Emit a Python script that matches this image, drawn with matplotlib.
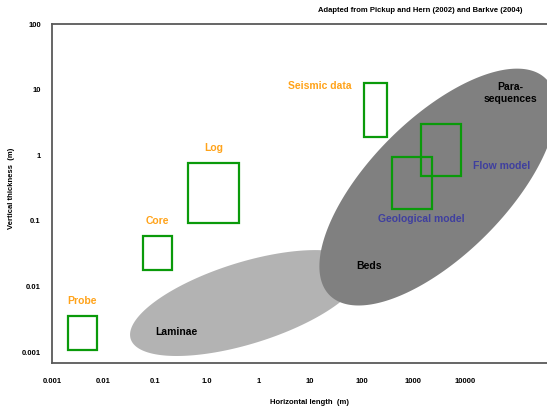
import numpy as np
import matplotlib
matplotlib.use("Agg")
import matplotlib.pyplot as plt
from matplotlib.patches import Rectangle
from matplotlib.ticker import NullLocator

plt.rcParams['font.family'] = ['Liberation Sans', 'DejaVu Sans']
plt.rcParams['font.weight'] = 'bold'

# measurement scales: horizontal extent (m) and vertical extent (m)
scale_names = ['Probe', 'Core', 'Log', 'Seismic data', 'Geological model', 'Flow model']
x_min = [0.00204, 0.058, 0.432, 1115, 3880, 14150]
x_max = [0.00745, 0.212, 4.2, 3100, 23100, 84300]
y_min = [0.00107, 0.0178, 0.0925, 1.89, 0.151, 0.482]
y_max = [0.00354, 0.0586, 0.76, 12.6, 0.94, 2.99]

# geological features as ellipses in log-log space
feature_names = ['Laminae', 'Beds']
feature_cx = [5.75, 30000]
feature_cy = [0.00558, 0.327]
feature_a = [2.34, 2.965]     # semi-axes in x decades
feature_b = [0.79, 1.32]
feature_angle = [17.3, 45]
feature_colors = ['#b3b3b3', '#808080']

x_ticks = 10.0 ** np.arange(-3, 6)
x_tick_labels = ['0.001', '0.01', '0.1', '1.0', '1', '10', '100', '1000', '10000']
y_ticks = 10.0 ** np.arange(-3, 3)
y_tick_labels = ['0.001', '0.01', '0.1', '1', '10', '100']

fig = plt.figure(figsize=(5.47, 4.07), dpi=100)
ax = fig.add_axes([0.095, 0.108, 0.905, 0.833])
ax.set_xscale('log')
ax.set_yscale('log')
xlim = (1e-3, 10 ** 6.593)
ylim = (10 ** -3.168, 100)
ax.set_xlim(xlim)
ax.set_ylim(ylim)

# px per decade on each axis, so the ellipses keep their shape
w_px = 0.905 * 547
h_px = 0.833 * 407
px_x = w_px / np.log10(xlim[1] / xlim[0])
px_y = h_px / np.log10(ylim[1] / ylim[0])
ratio = px_x / px_y

t = np.linspace(0, 2 * np.pi, 300)
for cx, cy, a, b, ang, col in zip(feature_cx, feature_cy, feature_a, feature_b,
                                  feature_angle, feature_colors):
    th = np.radians(ang)
    du = a * np.cos(t) * np.cos(th) - b * np.sin(t) * np.sin(th)
    dv = (a * np.cos(t) * np.sin(th) + b * np.sin(t) * np.cos(th)) * ratio
    ax.fill(10 ** (np.log10(cx) + du), 10 ** (np.log10(cy) + dv),
            color=col, lw=0, zorder=1)

for x0, x1, y0, y1 in zip(x_min, x_max, y_min, y_max):
    ax.add_patch(Rectangle((x0, y0), x1 - x0, y1 - y0, fill=False,
                           edgecolor='#0a9a0a', lw=1.6, zorder=3))

orange = '#ffa31a'
blue = '#3f3f9f'
# labels above the small-scale boxes
for i in range(3):
    xc = np.sqrt(x_min[i] * x_max[i])
    ax.annotate(scale_names[i], (xc, y_max[i]), xytext=(0, 11),
                textcoords='offset points', ha='center', va='center',
                color=orange, fontsize=7.5, fontweight='bold', zorder=4)
ax.text(156, 11.3, 'Seismic data', color=orange, fontsize=7.5,
        ha='center', va='center', fontweight='bold', zorder=4)
ax.text(14150, 0.106, 'Geological model', color=blue, fontsize=7.5,
        ha='center', va='center', fontweight='bold', zorder=4)
ax.text(526000, 0.684, 'Flow model', color=blue, fontsize=7.5,
        ha='center', va='center', fontweight='bold', zorder=4)
ax.text(751000, 8.87, 'Para-\nsequences', color='black', fontsize=7.5,
        ha='center', va='center', fontweight='bold', linespacing=1.3, zorder=4)
ax.text(1390, 0.0205, 'Beds', color='black', fontsize=7.5,
        ha='center', va='center', fontweight='bold', zorder=4)
ax.text(0.253, 0.00202, 'Laminae', color='black', fontsize=7.5,
        ha='center', va='center', fontweight='bold', zorder=4)

ax.set_xticks(x_ticks)
ax.set_xticklabels(x_tick_labels)
ax.set_yticks(y_ticks)
ax.set_yticklabels(y_tick_labels)
ax.xaxis.set_minor_locator(NullLocator())
ax.yaxis.set_minor_locator(NullLocator())
ax.tick_params(axis='x', length=0, pad=11, labelsize=5.5)
ax.tick_params(axis='y', length=0, pad=8, labelsize=5.5)

for side in ['left', 'top', 'bottom']:
    ax.spines[side].set_color('#595959')
    ax.spines[side].set_linewidth(1.3)
ax.spines['right'].set_visible(False)

fig.text(12 / 547, 1 - 188 / 407, 'Vertical thickness  (m)', fontsize=5.5,
         fontweight='bold', rotation=90, ha='center', va='center')
fig.text(310 / 547, 1 - 403 / 407, 'Horizontal length  (m)', fontsize=5.5,
         fontweight='bold', ha='center', va='center')
fig.text(420 / 547, 1 - 10 / 407, 'Adapted from Pickup and Hern (2002) and Barkve (2004)',
         fontsize=5.5, fontweight='bold', ha='center', va='center')

fig.savefig('out.png', dpi=100)
